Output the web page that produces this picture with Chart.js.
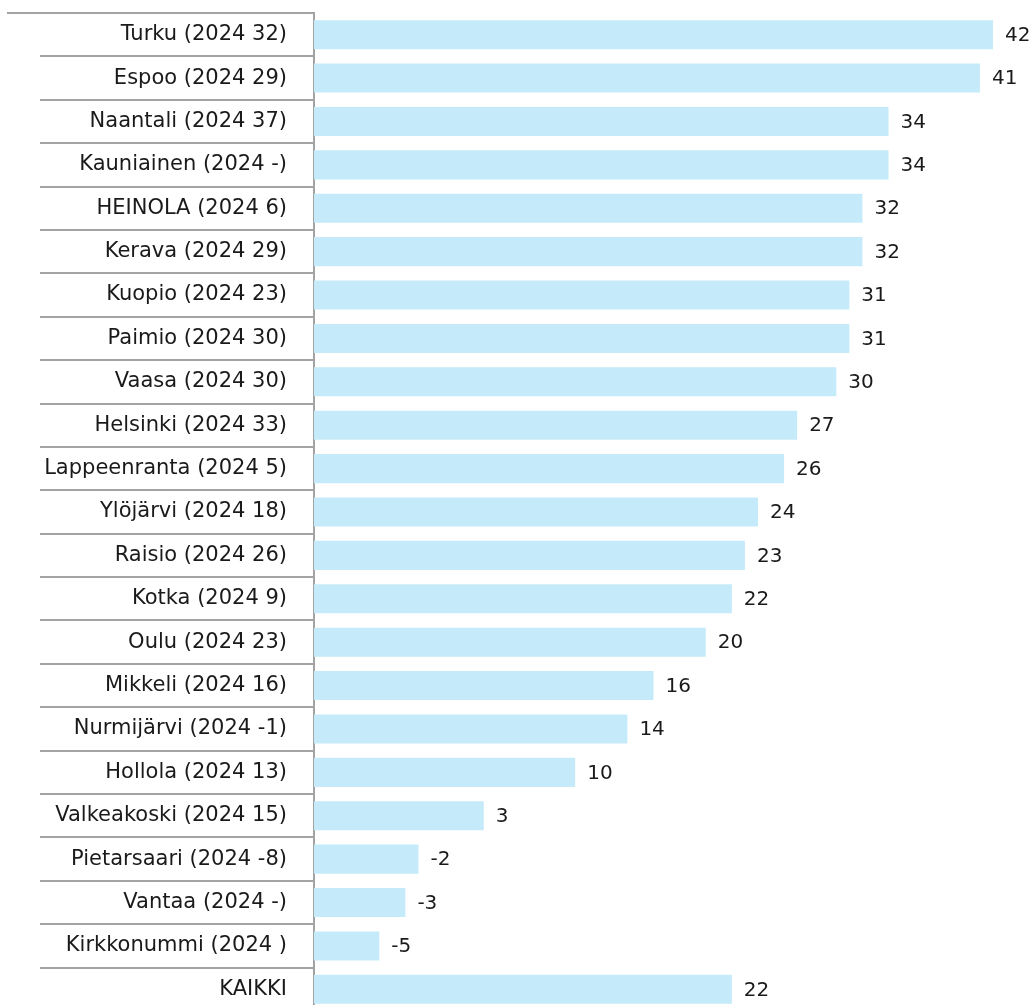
<!DOCTYPE html>
<html>
<head>
<meta charset="utf-8">
<script src="https://cdn.jsdelivr.net/npm/chart.js@4/dist/chart.umd.min.js"></script>
<style>
  html, body { margin: 0; padding: 0; background: #fff; overflow: hidden; }
  #wrap { width: 1035px; height: 1005px; overflow: hidden; }
</style>
</head>
<body>
<div id="wrap"><canvas id="chart" width="1035" height="1012"></canvas></div>
<script>
// kunnat + edellisen vuoden luku (2024)
const labels = [
    'Turku (2024 32)',
    'Espoo (2024 29)',
    'Naantali (2024 37)',
    'Kauniainen (2024 -)',
    'HEINOLA (2024 6)',
    'Kerava (2024 29)',
    'Kuopio (2024 23)',
    'Paimio (2024 30)',
    'Vaasa (2024 30)',
    'Helsinki (2024 33)',
    'Lappeenranta (2024 5)',
    'Ylöjärvi (2024 18)',
    'Raisio (2024 26)',
    'Kotka (2024 9)',
    'Oulu (2024 23)',
    'Mikkeli (2024 16)',
    'Nurmijärvi (2024 -1)',
    'Hollola (2024 13)',
    'Valkeakoski (2024 15)',
    'Pietarsaari (2024 -8)',
    'Vantaa (2024 -)',
    'Kirkkonummi (2024 )',
    'KAIKKI'
];
const values = [42, 41, 34, 34, 32, 32, 31, 31, 30, 27, 26, 24, 23, 22, 20, 16, 14, 10, 3, -2, -3, -5, 22];

const axisMin = -10;
const axisMax = 42;

const fontFamily = '"DejaVu Sans", sans-serif';
const lineColor = '#a3a3a3';

// arvot palkkien perään
const valueLabels = {
    id: 'valueLabels',
    afterDatasetsDraw(chart) {
        const ctx = chart.ctx;
        const meta = chart.getDatasetMeta(0);
        ctx.save();
        ctx.font = '20px ' + fontFamily;
        ctx.fillStyle = '#1a1a1a';
        ctx.textAlign = 'left';
        ctx.textBaseline = 'middle';
        meta.data.forEach((bar, i) => {
            ctx.fillText(String(values[i]), bar.x + 12, bar.y + 1);
        });
        ctx.restore();
    }
};

// ylin viiva jatkuu vasempaan reunaan asti
const topLine = {
    id: 'topLine',
    afterDraw(chart) {
        const ctx = chart.ctx;
        const top = chart.chartArea.top;
        ctx.save();
        ctx.strokeStyle = lineColor;
        ctx.lineWidth = 2;
        ctx.beginPath();
        ctx.moveTo(7, top);
        ctx.lineTo(chart.chartArea.left, top);
        ctx.stroke();
        ctx.restore();
    }
};

new Chart(document.getElementById('chart'), {
    type: 'bar',
    data: {
        labels: labels,
        datasets: [{
            data: values,
            base: axisMin,
            backgroundColor: 'rgb(197, 234, 249)',
            borderWidth: 0,
            barPercentage: 0.67,
            categoryPercentage: 1
        }]
    },
    options: {
        indexAxis: 'y',
        responsive: false,
        devicePixelRatio: 1,
        animation: false,
        layout: {
            padding: { left: 0, top: 13, right: 42, bottom: 1 }
        },
        plugins: {
            legend: { display: false },
            tooltip: { enabled: false }
        },
        scales: {
            x: {
                display: false,
                min: axisMin,
                max: axisMax
            },
            y: {
                afterFit(scale) { scale.width = 314; },
                grid: {
                    offset: true,
                    drawOnChartArea: false,
                    tickLength: 274,
                    color: lineColor,
                    lineWidth: 2
                },
                border: {
                    display: true,
                    color: lineColor,
                    width: 2
                },
                ticks: {
                    autoSkip: false,
                    padding: -247,
                    color: '#1a1a1a',
                    font: { family: fontFamily, size: 21 }
                }
            }
        }
    },
    plugins: [valueLabels, topLine]
});
</script>
</body>
</html>
